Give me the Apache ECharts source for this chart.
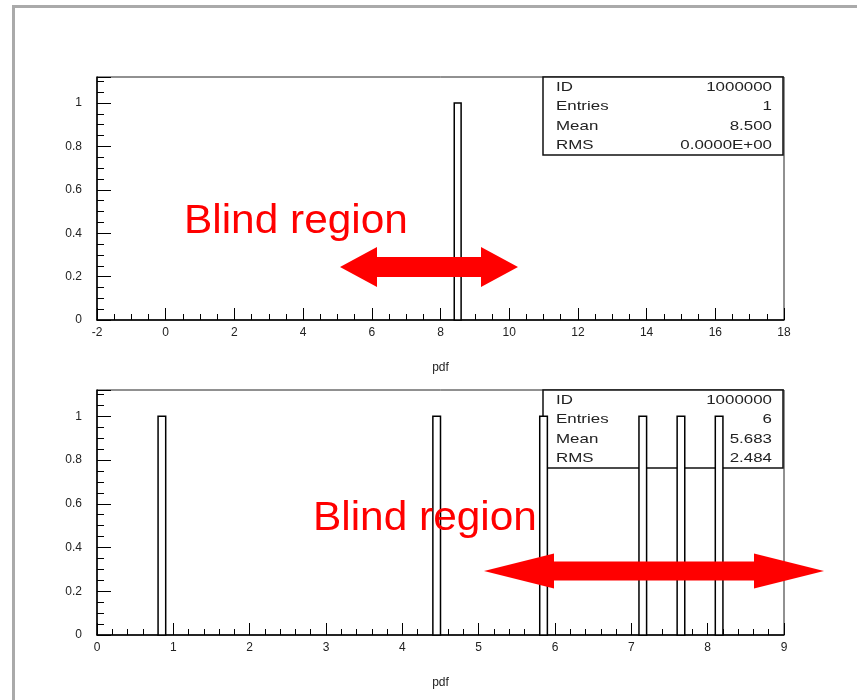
<!DOCTYPE html>
<html>
<head>
    <meta charset="utf-8">
    <script src="https://cdn.jsdelivr.net/npm/echarts@6/dist/echarts.min.js"></script>
    <style>
        body { margin: 0; background: #fff; }
    </style>
</head>
<body>
    <div id="main" style="width: 857px;height:700px;"></div>
    <script>
        // histogram bins: lower edge of each filled bin, its width, and entries
        var topBinLow = [8.4];
        var topBinWidth = 0.2;
        var topCounts = [1];
        var bottomBinLow = [0.8, 4.4, 5.8, 7.1, 7.6, 8.1];
        var bottomBinWidth = 0.1;
        var bottomCounts = [1, 1, 1, 1, 1, 1];

        // stats boxes
        var statNames = ['ID', 'Entries', 'Mean', 'RMS'];
        var topStats = ['1000000', '1', '8.500', '0.0000E+00'];
        var bottomStats = ['1000000', '6', '5.683', '2.484'];

        var font = "'Liberation Sans', Arial, sans-serif";

        function binData(lows, w, counts) {
            return lows.map(function (lo, i) {
                return [lo, +(lo + w).toFixed(3), counts[i]];
            });
        }

        // hollow histogram bar, ROOT/PAW style
        function histItem(params, api) {
            var p0 = api.coord([api.value(0), 0]);
            var p1 = api.coord([api.value(1), api.value(2)]);
            return {
                type: 'rect',
                shape: { x: p0[0], y: p1[1], width: p1[0] - p0[0], height: p0[1] - p1[1] },
                style: { fill: '#fff', stroke: '#000', lineWidth: 1.5 }
            };
        }

        function xAxisFor(idx, min, max, interval, minor) {
            return {
                type: 'value',
                gridIndex: idx,
                min: min,
                max: max,
                interval: interval,
                name: 'pdf',
                nameLocation: 'middle',
                nameGap: 42,
                nameTextStyle: { fontFamily: font, fontSize: 12, color: '#222' },
                axisLine: { onZero: false, lineStyle: { color: '#000', width: 1.5 } },
                axisTick: { inside: true, length: 12, lineStyle: { color: '#000' } },
                minorTick: { show: true, splitNumber: minor, length: 6, lineStyle: { color: '#000' } },
                splitLine: { show: false },
                axisLabel: { fontFamily: font, fontSize: 12, color: '#222', margin: 7 }
            };
        }

        function yAxisFor(idx) {
            return {
                type: 'value',
                gridIndex: idx,
                min: 0,
                max: 1.12,
                interval: 0.2,
                axisLine: { show: true, onZero: false, lineStyle: { color: '#000', width: 1.5 } },
                axisTick: { show: true, inside: true, length: 14, lineStyle: { color: '#000' } },
                minorTick: { show: true, splitNumber: 4, length: 7, lineStyle: { color: '#000' } },
                splitLine: { show: false },
                axisLabel: {
                    fontFamily: font, fontSize: 12, color: '#222', margin: 15,
                    formatter: function (v) {
                        return v > 1.001 ? '' : String(+v.toFixed(1));
                    }
                }
            };
        }

        function statsBox(x, y, w, values) {
            var els = [{
                type: 'rect',
                shape: { x: x, y: y, width: w, height: 78 },
                style: { fill: '#fff', stroke: '#111', lineWidth: 1.5 },
                z: 1
            }];
            statNames.forEach(function (n, i) {
                var ty = y + 10 + i * 19.5;
                els.push({
                    type: 'text', x: x + 13, y: ty, scaleX: 1.3, z: 1,
                    style: { text: n, font: '13px ' + font, fill: '#222', verticalAlign: 'middle', align: 'left' }
                });
                els.push({
                    type: 'text', x: x + w - 11, y: ty, scaleX: 1.3, z: 1,
                    style: { text: values[i], font: '13px ' + font, fill: '#222', verticalAlign: 'middle', align: 'right' }
                });
            });
            return els;
        }

        function arrow(x0, x1, cy, headLen, headHalf, shaftHalf) {
            return {
                type: 'polygon', z: 100,
                shape: {
                    points: [
                        [x0, cy], [x0 + headLen, cy - headHalf], [x0 + headLen, cy - shaftHalf],
                        [x1 - headLen, cy - shaftHalf], [x1 - headLen, cy - headHalf], [x1, cy],
                        [x1 - headLen, cy + headHalf], [x1 - headLen, cy + shaftHalf],
                        [x0 + headLen, cy + shaftHalf], [x0 + headLen, cy + headHalf]
                    ]
                },
                style: { fill: '#ff0000' }
            };
        }

        var myChart = echarts.init(document.getElementById('main'));

        var graphics = [{
            type: 'rect', z: 0,
            shape: { x: 13.5, y: 6.5, width: 900, height: 760 },
            style: { fill: 'none', stroke: '#aaa', lineWidth: 3 }
        }];
        graphics = graphics.concat(statsBox(543, 77, 240, topStats));
        graphics = graphics.concat(statsBox(543, 390, 240, bottomStats));
        graphics.push(arrow(340, 518, 267, 37, 20, 10));
        graphics.push(arrow(484, 824, 571, 70, 17.5, 9.5));
        graphics.push({
            type: 'text', x: 184, y: 222, z: 100, scaleX: 1.06,
            style: { text: 'Blind region', font: '40px ' + font, fill: '#ff0000', verticalAlign: 'middle' }
        });
        graphics.push({
            type: 'text', x: 313, y: 519, z: 100, scaleX: 1.06,
            style: { text: 'Blind region', font: '40px ' + font, fill: '#ff0000', verticalAlign: 'middle' }
        });

        var option = {
            backgroundColor: '#fff',
            animation: false,
            grid: [
                { left: 97, top: 77, width: 687, height: 243, show: true, borderColor: '#222', borderWidth: 1 },
                { left: 97, top: 390, width: 687, height: 245, show: true, borderColor: '#222', borderWidth: 1 }
            ],
            xAxis: [
                xAxisFor(0, -2, 18, 2, 4),
                xAxisFor(1, 0, 9, 1, 5)
            ],
            yAxis: [yAxisFor(0), yAxisFor(1)],
            graphic: graphics,
            series: [{
                type: 'custom',
                xAxisIndex: 0,
                yAxisIndex: 0,
                z: 5,
                renderItem: histItem,
                encode: { x: [0, 1], y: 2 },
                data: binData(topBinLow, topBinWidth, topCounts)
            }, {
                type: 'custom',
                xAxisIndex: 1,
                yAxisIndex: 1,
                z: 5,
                renderItem: histItem,
                encode: { x: [0, 1], y: 2 },
                data: binData(bottomBinLow, bottomBinWidth, bottomCounts)
            }]
        };
        myChart.setOption(option);
    </script>
</body>
</html>
